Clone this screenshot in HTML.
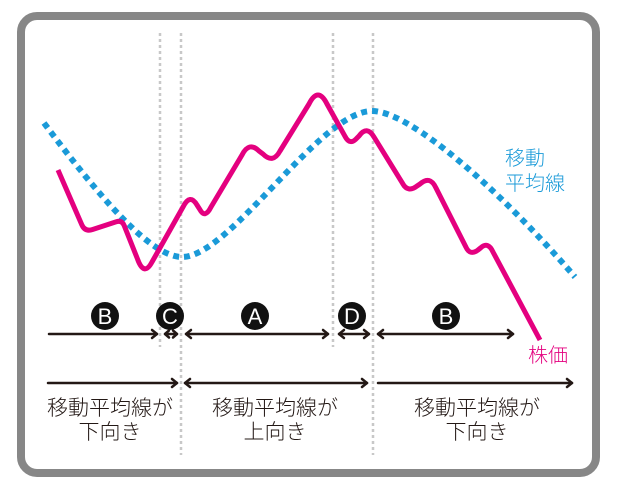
<!DOCTYPE html>
<html>
<head>
<meta charset="utf-8">
<style>
  html, body { margin: 0; padding: 0; background: #ffffff; }
  body { width: 620px; height: 488px; overflow: hidden; }
  svg { display: block; }
  .jp { font-family: "Liberation Sans", "Noto Sans CJK JP", sans-serif; font-weight: 300; }
  .lt { font-family: "Liberation Sans", "DejaVu Sans", sans-serif; }
</style>
</head>
<body>
<svg width="620" height="488" viewBox="0 0 620 488" xmlns="http://www.w3.org/2000/svg">
  <rect x="0" y="0" width="620" height="488" fill="#ffffff"/>
  <!-- frame -->
  <rect x="21" y="16" width="575" height="457" rx="16" ry="16" fill="#ffffff" stroke="#878787" stroke-width="8"/>

  <!-- vertical dotted guides -->
  <g stroke="#c8c8c8" stroke-width="2.5" stroke-dasharray="3 3" fill="none">
    <line x1="160" y1="33" x2="160" y2="347"/>
    <line x1="181" y1="33" x2="181" y2="455"/>
    <line x1="333" y1="33" x2="333" y2="347"/>
    <line x1="373" y1="33" x2="373" y2="455"/>
  </g>

  <!-- moving average (blue dotted) -->
  <path d="M44,123 C98,195 150,257 182,257 C230,257 320,111 372,111 C410,111 500,190 575,277"
        fill="none" stroke="#1a9ad8" stroke-width="6" stroke-dasharray="6 5"/>

  <!-- stock price (pink) -->
  <path d="M58,170 L81.8,224.7 Q85,232 92.6,229.5 L116.3,221.8 Q122,220 124.2,225.6 L137.5,259 Q144,277 152,262 L183,207 Q190,193 197,205 L199.9,209.6 Q205,219 211,207 L242,155 Q249,141 259,151 L263,154 Q273,164 280,151 L309,104 Q318,86 327,104 L345,136.3 Q350,146 357,138 L359,136 Q367,125 374,137 L402.7,183.6 Q408,193 417,186 L420,184 Q430,175 436,188 L465.9,247 Q470,256 478,250 L480.5,248 Q488,241 493,252 L540,340"
        fill="none" stroke="#e4007f" stroke-width="5" stroke-linejoin="round" stroke-linecap="butt"/>

  <!-- labels on chart -->
  <text x="505" y="165" class="jp" font-size="20" fill="#1a9ad8">移動</text>
  <text x="505" y="190" class="jp" font-size="20" fill="#1a9ad8">平均線</text>
  <text x="528" y="362" class="jp" font-size="20" fill="#e4007f">株価</text>

  <!-- circle markers -->
  <g fill="#111111">
    <circle cx="105" cy="316" r="14"/>
    <circle cx="170" cy="316" r="14"/>
    <circle cx="255" cy="316" r="14"/>
    <circle cx="352" cy="316" r="14"/>
    <circle cx="446" cy="316" r="14"/>
  </g>
  <g class="lt" font-size="22" fill="#ffffff" text-anchor="middle">
    <text x="105" y="324">B</text>
    <text x="170" y="324">C</text>
    <text x="255" y="324">A</text>
    <text x="352" y="324">D</text>
    <text x="446" y="324">B</text>
  </g>

  <!-- arrows -->
  <g stroke="#231815" stroke-width="2.5" fill="none" stroke-linecap="round" stroke-linejoin="round">
    <!-- upper row y=334 -->
    <line x1="49" y1="334" x2="157" y2="334"/>
    <polyline points="152,330 157,334 152,338"/>

    <line x1="165" y1="334" x2="177" y2="334"/>
    <polyline points="169,330.5 165,334 169,337.5"/>
    <polyline points="173,330.5 177,334 173,337.5"/>

    <line x1="186" y1="334" x2="328" y2="334"/>
    <polyline points="191,330 186,334 191,338"/>
    <polyline points="323,330 328,334 323,338"/>

    <line x1="339" y1="334" x2="369" y2="334"/>
    <polyline points="344,330 339,334 344,338"/>
    <polyline points="364,330 369,334 364,338"/>

    <line x1="378" y1="334" x2="513" y2="334"/>
    <polyline points="383,330 378,334 383,338"/>
    <polyline points="508,330 513,334 508,338"/>

    <!-- lower row y=383 -->
    <line x1="48" y1="383" x2="177" y2="383"/>
    <polyline points="172,379 177,383 172,387"/>

    <line x1="185" y1="383" x2="367" y2="383"/>
    <polyline points="190,379 185,383 190,387"/>
    <polyline points="362,379 367,383 362,387"/>

    <line x1="378" y1="383" x2="572" y2="383"/>
    <polyline points="567,379 572,383 567,387"/>
  </g>

  <!-- bottom captions -->
  <g class="jp" font-size="21" fill="#231815" text-anchor="middle">
    <text x="110" y="415">移動平均線が</text>
    <text x="110" y="439">下向き</text>
    <text x="275" y="415">移動平均線が</text>
    <text x="275" y="439">上向き</text>
    <text x="477" y="415">移動平均線が</text>
    <text x="477" y="439">下向き</text>
  </g>
</svg>
</body>
</html>
